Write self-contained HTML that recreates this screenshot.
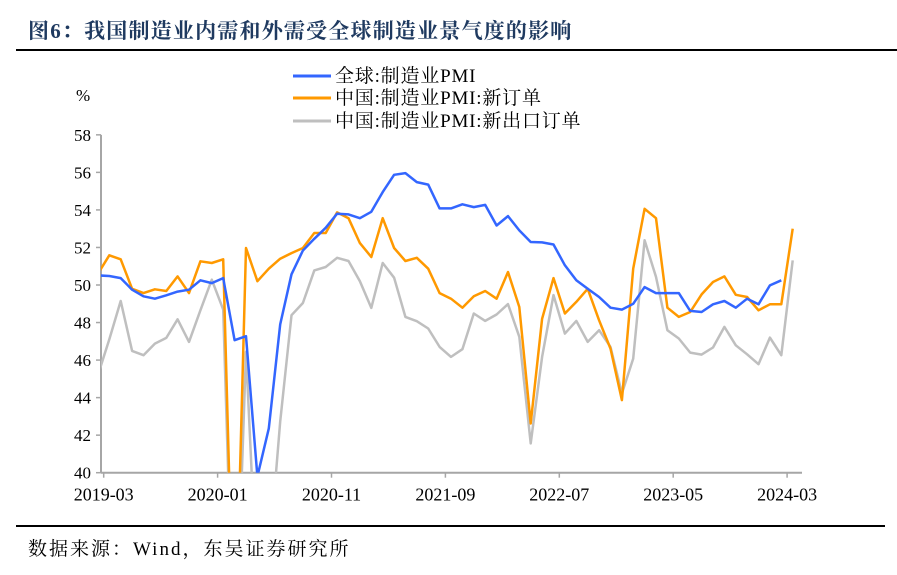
<!DOCTYPE html>
<html><head><meta charset="utf-8"><style>
html,body{margin:0;padding:0;background:#fff;overflow:hidden;}
svg{display:block;}
svg text{font-family:"Liberation Serif","Noto Serif CJK SC",serif;}
</style></head><body>
<svg id="chart" width="897" height="575" xmlns="http://www.w3.org/2000/svg">
<text x="28" y="38" font-size="21" font-weight="bold" letter-spacing="1.2" fill="#1f3a60">图6：我国制造业内需和外需受全球制造业景气度的影响</text>
<line x1="16" y1="50" x2="897" y2="50" stroke="#000" stroke-width="2"/>
<text x="76" y="101" font-size="17">%</text>
<g>
<g><line x1="293" y1="76" x2="331" y2="76" stroke="#3366ff" stroke-width="3"/><text x="335" y="82" font-size="19" letter-spacing="0.8">全球:制造业PMI</text></g>
<g><line x1="293" y1="98" x2="331" y2="98" stroke="#ff9900" stroke-width="3"/><text x="335" y="104" font-size="19" letter-spacing="0.8">中国:制造业PMI:新订单</text></g>
<g><line x1="293" y1="121" x2="331" y2="121" stroke="#bfbfbf" stroke-width="3"/><text x="335" y="127" font-size="19" letter-spacing="0.8">中国:制造业PMI:新出口订单</text></g>
</g>
<g id="axes"></g>
<g id="series"></g>
<line x1="16" y1="526" x2="885" y2="526" stroke="#000" stroke-width="2"/>
<text x="28" y="555" font-size="19" letter-spacing="2">数据来源：Wind，东吴证券研究所</text>
</svg>
<script>
// months start 2019-02 (clipped) through 2024-03
const globalPMI=[50.51,50.48,50.37,49.75,49.4,49.27,49.45,49.65,49.75,50.25,50.1,50.37,47.06,47.27,39.8,42.36,47.9,50.57,51.84,52.46,53.05,53.8,53.76,53.56,53.9,54.95,55.87,55.96,55.48,55.35,54.08,54.08,54.3,54.15,54.27,53.17,53.67,52.91,52.29,52.27,52.16,51.05,50.25,49.8,49.36,48.79,48.69,49.0,49.89,49.57,49.57,49.57,48.62,48.56,48.97,49.15,48.79,49.27,48.97,49.98,50.25,null];
const newOrders=[50.6,51.58,51.37,49.8,49.57,49.77,49.68,50.46,49.57,51.26,51.17,51.37,29.3,51.97,50.2,50.87,51.4,51.7,51.97,52.77,52.77,53.87,53.56,52.23,51.49,53.56,51.97,51.28,51.45,50.87,49.57,49.27,48.79,49.4,49.68,49.27,50.69,48.83,42.62,48.2,50.37,48.48,49.1,49.8,48.12,46.61,43.87,50.87,54.06,53.56,48.79,48.3,48.56,49.5,50.16,50.46,49.48,49.36,48.65,48.97,48.97,53.0];
const exportOrders=[45.2,47.1,49.15,46.49,46.26,46.88,47.18,48.17,46.97,48.65,50.28,48.69,28.7,46.44,33.5,35.3,42.73,48.39,49.04,50.78,50.96,51.45,51.28,50.2,48.78,51.17,50.39,48.3,48.07,47.68,46.7,46.17,46.58,48.48,48.09,48.43,48.98,47.24,41.56,46.17,49.46,47.41,48.09,46.97,47.59,46.7,44.22,46.08,52.38,50.43,47.59,47.15,46.4,46.29,46.67,47.77,46.79,46.31,45.78,47.2,46.26,51.31];
const yTicks=[40,42,44,46,48,50,52,54,56,58];
const xTickLabels=["2019-03","2020-01","2020-11","2021-09","2022-07","2023-05","2024-03"];

const NS="http://www.w3.org/2000/svg";
const X0=109.3, DX=11.39, AX_L=101, AX_R=802, Y_BOT=472.7, PY=18.77;
function xScale(i){return X0+(i-1)*DX;}
function yScale(v){return Y_BOT-(v-40)*PY;}
function mk(tag,attrs,parent){const e=document.createElementNS(NS,tag);for(const k in attrs)e.setAttribute(k,attrs[k]);parent.appendChild(e);return e;}
const axes=document.getElementById('axes');
const defs=mk('defs',{},document.getElementById('chart'));
const cp=mk('clipPath',{id:'plotclip'},defs);
mk('rect',{x:AX_L,y:120,width:AX_R-AX_L,height:Y_BOT-120},cp);

const yAxis=mk('line',{x1:AX_L,y1:yScale(58),x2:AX_L,y2:Y_BOT,stroke:'#a6a6a6','stroke-width':2},axes);


yTicks.forEach(v=>{
  const t=mk('line',{x1:AX_L-5,y1:yScale(v),x2:AX_L,y2:yScale(v),stroke:'#a6a6a6','stroke-width':1.5},axes);
  
  
  const l=mk('text',{x:AX_L-10,y:yScale(v)+6,'font-size':17,'text-anchor':'end'},axes);
  l.textContent=v;
  
  
});
const xAxis=mk('line',{x1:AX_L,y1:Y_BOT,x2:AX_R,y2:Y_BOT,stroke:'#a6a6a6','stroke-width':2},axes);


xTickLabels.forEach((lab,j)=>{
  const x=xScale(1+j*10)-5.6;
  const t=mk('line',{x1:x,y1:Y_BOT,x2:x,y2:Y_BOT+5,stroke:'#a6a6a6','stroke-width':1.5},axes);
  
  
  const l=mk('text',{x:x,y:Y_BOT+28,'font-size':18,'text-anchor':'middle'},axes);
  l.textContent=lab;
  
  
});
const series=document.getElementById('series');
series.setAttribute('clip-path','url(#plotclip)');
function draw(arr,color,name){
  let d='';arr.forEach((v,i)=>{if(v==null)return;d+=(d?'L':'M')+xScale(i).toFixed(1)+','+yScale(v).toFixed(1);});
  const p=mk('path',{d:d,fill:'none',stroke:color,'stroke-width':2.5,'stroke-linejoin':'round'},series);
  
  
}
draw(exportOrders,'#bfbfbf','line-china-export-orders');
draw(newOrders,'#ff9900','line-china-new-orders');
draw(globalPMI,'#3366ff','line-global-pmi');
</script>
</body></html>
